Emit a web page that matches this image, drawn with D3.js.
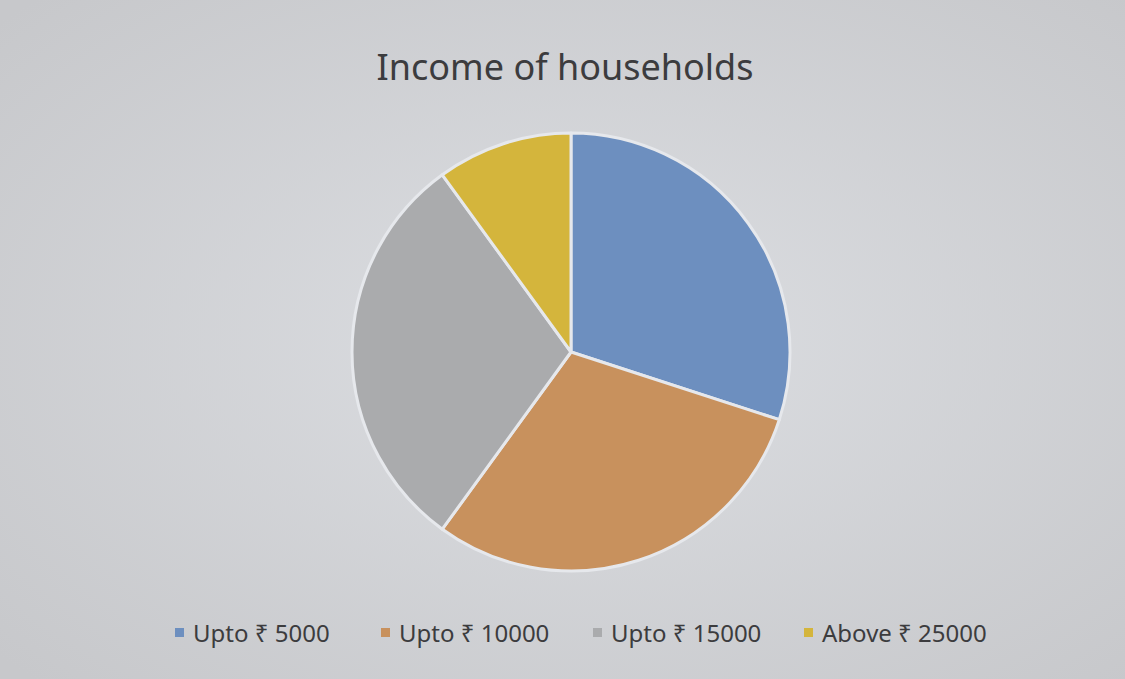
<!DOCTYPE html>
<html>
<head>
<meta charset="utf-8">
<script src="https://cdn.jsdelivr.net/npm/d3@7"></script>
<style>
  body { margin: 0; background: #cfd1d5; }
  svg { display: block; }
  text { font-family: "Noto Sans", "Open Sans", sans-serif; fill: #3c3c3e; }
</style>
</head>
<body>
<svg id="chart"></svg>
<script>
var categories = ["Upto \u20B9 5000", "Upto \u20B9 10000", "Upto \u20B9 15000", "Above \u20B9 25000"];
var values = [30, 30, 30, 10];
var colors = ["#6d8fbf", "#c8915d", "#aaabad", "#d4b53c"];

var screen = { width: 1125, height: 679 };
var svg = d3.select("#chart").attr("width", screen.width).attr("height", screen.height);

// soft photo-like background
var defs = svg.append("defs");
var grad = defs.append("radialGradient").attr("id", "bg").attr("cx", "52%").attr("cy", "50%").attr("r", "70%");
grad.append("stop").attr("offset", "0%").attr("stop-color", "#dcdee2");
grad.append("stop").attr("offset", "100%").attr("stop-color", "#c7c8cb");
svg.append("rect").attr("width", screen.width).attr("height", screen.height).attr("fill", "url(#bg)");

svg.append("text")
  .text("Income of households")
  .attr("x", 565)
  .attr("y", 80)
  .attr("text-anchor", "middle")
  .style("font-size", "36px");

var center = { x: 571, y: 352 };
var radius = 219;

var pie = d3.pie().sort(null).value(function (d) { return d; });
var arc = d3.arc().innerRadius(0).outerRadius(radius);

var g = svg.append("g").attr("transform", "translate(" + center.x + "," + center.y + ")");
g.selectAll("path")
  .data(pie(values))
  .enter()
  .append("path")
  .attr("d", arc)
  .attr("fill", function (d, i) { return colors[i]; })
  .attr("stroke", "#e6e8ec")
  .attr("stroke-width", 3)
  .attr("stroke-linejoin", "round");

// legend
var legendX = [175, 381, 593, 804];
var legend = svg.append("g").classed("legend", true);
var items = legend.selectAll("g")
  .data(categories)
  .enter()
  .append("g")
  .attr("transform", function (d, i) { return "translate(" + legendX[i] + ",633)"; });
items.append("rect")
  .attr("x", 0).attr("y", -5)
  .attr("width", 9).attr("height", 9)
  .attr("fill", function (d, i) { return colors[i]; });
items.append("text")
  .text(function (d) { return d; })
  .attr("x", 18)
  .attr("y", 9)
  .style("font-size", "24px");
</script>
</body>
</html>
